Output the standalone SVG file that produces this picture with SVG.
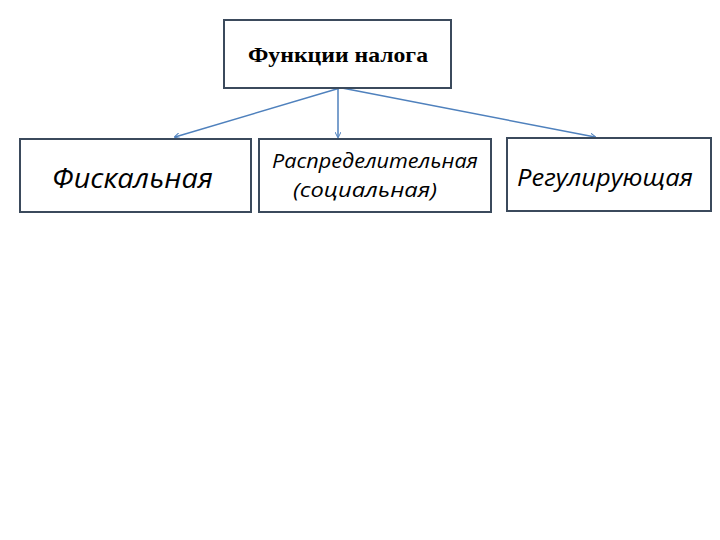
<svg xmlns="http://www.w3.org/2000/svg" width="720" height="540" viewBox="0 0 720 540">
<style>
.box{fill:#fff;stroke:#3b4a5c;stroke-width:2}
.c{stroke:#4f81bd;stroke-width:1.5;fill:none;marker-end:url(#a)}
.t{font-family:"Open Sans","DejaVu Sans",sans-serif;font-style:italic;fill:#000}
</style>
<defs><marker id="a" markerWidth="6" markerHeight="6" refX="5" refY="3" orient="auto" markerUnits="userSpaceOnUse"><path d="M0,0 L6,3 L0,6" fill="none" stroke="#4f81bd" stroke-width="1"/></marker></defs>
<rect width="720" height="540" fill="#fff"/>
<g id="connectors">
<line class="c" x1="340" y1="88" x2="175" y2="137"/>
<line class="c" x1="338" y1="88" x2="338" y2="137"/>
<line class="c" x1="342" y1="88" x2="595" y2="137"/>
</g>
<g id="root"><rect class="box" x="224" y="20" width="227" height="68"/>
<text x="248" y="62" textLength="180" lengthAdjust="spacingAndGlyphs" font-family="Liberation Serif,serif" font-weight="bold" font-size="21">Функции налога</text></g>
<g id="n1"><rect class="box" x="20" y="139" width="231" height="73"/>
<text class="t" x="52" y="188" textLength="161" lengthAdjust="spacingAndGlyphs" font-size="27">Фискальная</text></g>
<g id="n2"><rect class="box" x="259" y="139" width="232" height="73"/>
<text class="t" x="272" y="168" textLength="206" lengthAdjust="spacingAndGlyphs" font-size="20">Распределительная</text>
<text class="t" x="293" y="197" textLength="144" lengthAdjust="spacingAndGlyphs" font-size="20">(социальная)</text></g>
<g id="n3"><rect class="box" x="507" y="138" width="204" height="73"/>
<text class="t" x="517" y="186" textLength="176" lengthAdjust="spacingAndGlyphs" font-size="24">Регулирующая</text></g>
</svg>
